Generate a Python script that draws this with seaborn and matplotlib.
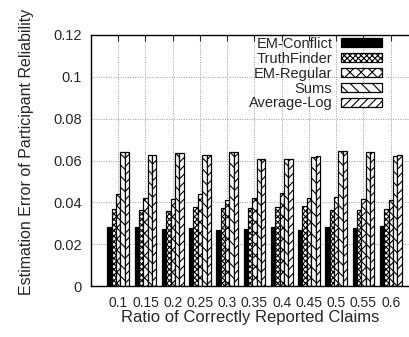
import numpy as np
import pandas as pd
import matplotlib
matplotlib.use("Agg")
import matplotlib.pyplot as plt
import seaborn as sns
from matplotlib.patches import Patch

ratios = ["0.1", "0.15", "0.2", "0.25", "0.3", "0.35", "0.4", "0.45", "0.5", "0.55", "0.6"]
methods = ["EM-Conflict", "TruthFinder", "EM-Regular", "Sums", "Average-Log"]

em_conflict = [0.0284, 0.0284, 0.0271, 0.0275, 0.0268, 0.0273, 0.0283, 0.0267, 0.0284, 0.0275, 0.0286]
truthfinder = [0.0369, 0.0364, 0.0360, 0.0380, 0.0374, 0.0374, 0.0380, 0.0383, 0.0364, 0.0364, 0.0366]
em_regular = [0.0441, 0.0420, 0.0415, 0.0440, 0.0410, 0.0421, 0.0447, 0.0423, 0.0426, 0.0417, 0.0412]
sums = [0.0641, 0.0624, 0.0635, 0.0625, 0.0640, 0.0605, 0.0606, 0.0619, 0.0645, 0.0640, 0.0622]
average_log = [0.0643, 0.0626, 0.0637, 0.0627, 0.0642, 0.0607, 0.0608, 0.0621, 0.0647, 0.0642, 0.0624]

series = [em_conflict, truthfinder, em_regular, sums, average_log]
df = pd.DataFrame({
    "ratio": np.repeat([ratios], len(methods), axis=0).ravel(),
    "method": np.repeat(methods, len(ratios)),
    "error": np.concatenate(series),
})

sns.set_style("white")
plt.rcParams["font.family"] = ["Liberation Sans", "DejaVu Sans"]
plt.rcParams["hatch.linewidth"] = 0.8

fig = plt.figure(figsize=(4.10, 3.37), dpi=100)
ax = fig.add_axes([91 / 410, 1 - 286 / 337, 327 / 410, 251 / 337])

faces = ["black", "white", "white", "white", "white"]
hatches = [None, "xxxxxx", "xxx", "\\\\\\", "////"]

sns.barplot(data=df, x="ratio", y="error", hue="method", order=ratios,
            hue_order=methods, palette=faces, width=0.8, gap=0,
            edgecolor="black", linewidth=0.9, saturation=1, ax=ax, legend=False)

for cont, h in zip(ax.containers, hatches):
    for bar in cont:
        bar.set_edgecolor("black")
        if h:
            bar.set_hatch(h)

ax.set_xlim(-1, 11)
ax.set_ylim(0, 0.12)
ax.set_yticks([0, 0.02, 0.04, 0.06, 0.08, 0.1, 0.12])
ax.set_yticklabels(["0", "0.02", "0.04", "0.06", "0.08", "0.1", "0.12"])
ax.set_xticks(range(len(ratios)))
ax.set_xticklabels(ratios)
ax.tick_params(axis="both", direction="in", labelsize=10, length=4, width=0.8,
               top=True, right=True)
ax.tick_params(axis="y", labelsize=10.5, pad=6.5)
ax.tick_params(axis="x", pad=7)
ax.grid(True, color="#999999", linestyle=(0, (1, 1.5)), linewidth=0.7)
ax.set_axisbelow(True)
for s in ax.spines.values():
    s.set_color("black")
    s.set_linewidth(1.0)

ax.set_xlabel("Ratio of Correctly Reported Claims", fontsize=12)
ax.set_ylabel("Estimation Error of Participant Reliability", fontsize=11.5)
ax.xaxis.set_label_coords((250.5 - 91) / 327, (286 - 310) / 251)
ax.yaxis.set_label_coords((34 - 91) / 327, (286 - 151.5) / 251)

handles = [Patch(facecolor=f, edgecolor="black", hatch=h, linewidth=0.9)
           for f, h in zip(faces, hatches)]
fig.legend(handles, methods, loc="upper right", bbox_to_anchor=(382 / 410, 1 - 37 / 337),
           markerfirst=False, frameon=False, fontsize=10.5, handlelength=2.8,
           handleheight=0.55, handletextpad=0.6, labelspacing=0.06, borderaxespad=0,
           borderpad=0)

plt.savefig("out.png", dpi=100)
